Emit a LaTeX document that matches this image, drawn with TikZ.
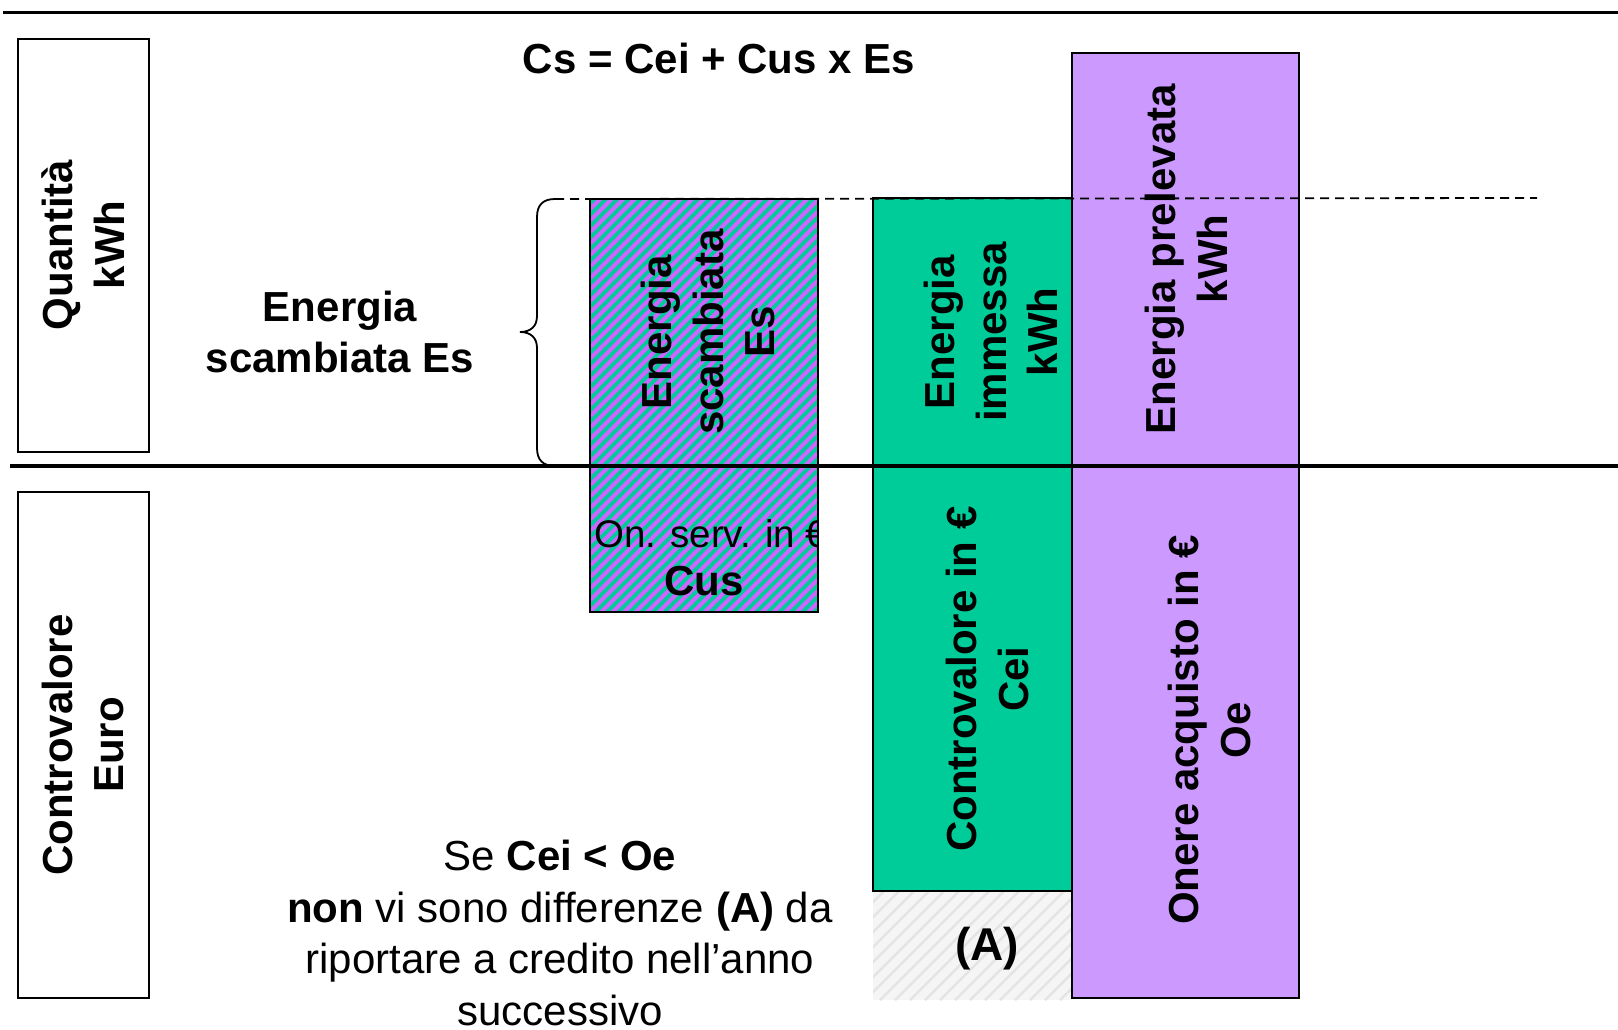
\documentclass[tikz,border=0pt]{standalone}
\usepackage{fontspec}
\setmainfont{Liberation Sans}
\definecolor{vgreen}{HTML}{00CC99}
\definecolor{vpurple}{HTML}{CC99FF}
\definecolor{hpurple}{HTML}{CC66FF}
\definecolor{lgray}{HTML}{F5F5F5}
\definecolor{mgray}{HTML}{E4E4E4}
\begin{document}
\begin{tikzpicture}[x=1pt,y=-1pt,
  big/.style={font=\fontsize{42}{51.5}\selectfont\bfseries, align=center, inner sep=0pt},
  vert/.style={big, rotate=90},
  reg/.style={font=\fontsize{42}{51.5}\selectfont, align=center, inner sep=0pt},
  boxline/.style={draw=black, line width=2pt},
  rule/.style={line width=3.5pt},
  dashline/.style={line width=1.8pt, dash pattern=on 9pt off 6pt},
]
\useasboundingbox (0,0) rectangle (1618,1029);
\fill[white] (0,0) rectangle (1618,1029);

% hatched box (Energia scambiata)
\begin{scope}
  \clip (590,199) rectangle (818,612);
  \fill[hpurple] (590,199) rectangle (818,612);
  \foreach \i in {170,181.5,...,830} \draw[vgreen, line width=3.6pt] (\i,612) -- ++(420,-420);
\end{scope}
\draw[boxline] (590,199) rectangle (818,612);

% green box
\fill[vgreen] (873,198) rectangle (1072,891);
\draw[boxline] (873,198) rectangle (1072,891);

% gray hatched (A) area
\begin{scope}
  \clip (873,892) rectangle (1072,1000);
  \fill[lgray] (873,892) rectangle (1072,1000);
  \foreach \i in {760,775,...,1080} \draw[mgray, line width=2.5pt] (\i,1000) -- ++(120,-120);
\end{scope}

% purple box
\fill[vpurple] (1072,53) rectangle (1299,998);
\draw[boxline] (1072,53) rectangle (1299,998);

% left label boxes
\draw[boxline] (17.5,39) rectangle (148.5,452);
\draw[boxline] (17.5,492) rectangle (148.5,998);

% texts
\node[big] (formula) at (719,58) {Cs = Cei + Cus x Es};
\node[vert] (quant) at (83,245) {Quantità\\kWh};
\node[vert] (contro) at (83,745) {Controvalore\\Euro};
\node[big] (escamb) at (340,332) {Energia\\scambiata Es};
\node[vert] (hatchtxt) at (708,332) {Energia\\scambiata\\Es};
\begin{scope}
  \clip (590,470) rectangle (818,612);
  \node[anchor=west, inner sep=0pt, font=\fontsize{38.5}{46}\selectfont] (onserv) at (594,534) {On. serv. in €};
\end{scope}
\node[big] (cus) at (704,581) {Cus};
\node[vert] (immessa) at (991,332) {Energia\\immessa\\kWh};
\node[vert] (cei) at (987.5,679) {Controvalore in €\\Cei};
\node[vert] (prelevata) at (1186.5,259) {Energia prelevata\\kWh};
\node[vert] (oe) at (1209.5,730) {Onere acquisto in €\\Oe};
\node[big, font=\fontsize{46}{52}\selectfont\bfseries] (atxt) at (987,949) {(A)};
\node[reg] (note) at (560,933) {Se \textbf{Cei < Oe}\\\textbf{non} vi sono differenze \textbf{(A)} da\\riportare a credito nell’anno\\successivo};

% rules
\draw[rule] (3,12.7) -- (1618,12.7);
\draw[rule] (10,466) -- (1618,466);

% dashed level line
\draw[dashline] (555,199) -- (1537,198);

% brace
\draw[line width=1.8pt] (555,199) .. controls (543,199) and (537,205) .. (537,217)
  -- (537,316) .. controls (537,326) and (531,332) .. (520,332)
  .. controls (531,332) and (537,338) .. (537,348)
  -- (537,448) .. controls (537,460) and (543,466) .. (555,466);
\end{tikzpicture}
\end{document}
